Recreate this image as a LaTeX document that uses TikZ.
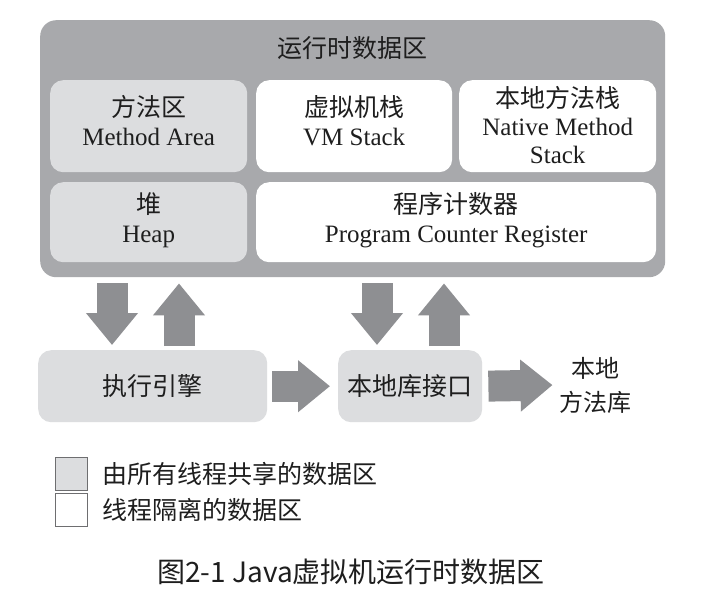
\documentclass[tikz,border=0pt]{standalone}
\usepackage{fontspec}
\setmainfont{Liberation Serif}
\newfontfamily\cjk{Noto Sans CJK SC}
\usetikzlibrary{arrows.meta}
\definecolor{outerg}{HTML}{A8A9AC}
\definecolor{lightg}{HTML}{DCDDDF}
\definecolor{arrowg}{HTML}{8E8F92}
\definecolor{txt}{HTML}{1E1E1E}
\definecolor{legline}{HTML}{6E6E70}
\begin{document}
\begin{tikzpicture}[x=1pt,y=-1pt,
  font=\fontsize{25}{29}\selectfont, text=txt,
  area/.style={rounded corners=13pt, inner sep=0pt, align=center, anchor=north west},
  shared/.style={area, fill=lightg},
  isolated/.style={area, fill=white},
  label text/.style={align=center, inner sep=0pt},
  fat/.style={draw=arrowg, line width=31pt, -{Triangle[width=50pt,length=32pt]}},
  legbox/.style={draw=legline, line width=1.2pt, inner sep=0pt, minimum width=32pt, minimum height=33pt, anchor=north west},
  legtext/.style={anchor=west, font=\cjk\fontsize{25}{28}\selectfont}
]
\useasboundingbox (0,0) rectangle (710,598);
\fill[white] (0,0) rectangle (710,598);

% runtime data area
\node[area, rounded corners=16pt, fill=outerg, minimum width=625pt, minimum height=257pt] (rt) at (40,20) {};
\node (title) at (352,48) {\cjk 运行时数据区};

\node[shared, minimum width=197pt, minimum height=92pt] (ma) at (50,80) {};
\node[label text] (mat) at ([yshift=6pt]ma.center) {{\cjk 方法区}\\Method Area};
\node[isolated, minimum width=196pt, minimum height=92pt] (vms) at (256,80) {};
\node[label text] (vmst) at ([yshift=6pt]vms.center) {{\cjk 虚拟机栈}\\VM Stack};
\node[isolated, minimum width=197pt, minimum height=92pt] (nms) at (459,80) {};
\node[label text] (nmst) at ([yshift=1pt]nms.center) {{\cjk 本地方法栈}\\[-1pt]Native Method\\[-1pt]Stack};
\node[shared, minimum width=197pt, minimum height=80pt] (heap) at (50,182) {};
\node[label text] (heapt) at ([yshift=2pt]heap.center) {{\cjk 堆}\\Heap};
\node[isolated, minimum width=400pt, minimum height=80pt] (pc) at (256,182) {};
\node[label text] (pct) at ([yshift=2pt]pc.center) {{\cjk 程序计数器}\\Program Counter Register};

% lower boxes
\node[shared, minimum width=229pt, minimum height=72pt] (ee) at (38,350) {\cjk 执行引擎};
\node[shared, minimum width=144pt, minimum height=72pt] (nli) at (338,350) {\cjk 本地库接口};
\node[align=center, font=\cjk\fontsize{24}{34}\selectfont] (nl) at (595,385) {本地\\方法库};

% arrow x positions
\coordinate (d1) at (112,0);
\coordinate (u1) at (179,0);
\coordinate (d2) at (377,0);
\coordinate (u2) at (444,0);

\draw[fat, shorten <=6pt, shorten >=5pt] (rt.south -| d1) -- (ee.north -| d1);
\draw[fat, shorten <=4pt, shorten >=6pt] (ee.north -| u1) -- (rt.south -| u1);
\draw[fat, shorten <=6pt, shorten >=5pt] (rt.south -| d2) -- (nli.north -| d2);
\draw[fat, shorten <=4pt, shorten >=6pt] (nli.north -| u2) -- (rt.south -| u2);
\draw[fat, shorten <=5pt, shorten >=8pt] (ee.east) -- (nli.west);
\draw[fat, shorten <=6pt, shorten >=3pt] (nli.east) -- (nl.west);

% legend
\node[legbox, fill=lightg] (l1) at (55,457) {};
\node[legbox, fill=white] (l2) at (55,493) {};
\node[legtext] (t1) at (99,474) {由所有线程共享的数据区};
\node[legtext] (t2) at (99,510) {线程隔离的数据区};

% caption
\node[font=\cjk\fontsize{28}{30}\selectfont] (cap) at (351,572) {图2-1 Java虚拟机运行时数据区};
\end{tikzpicture}
\end{document}
